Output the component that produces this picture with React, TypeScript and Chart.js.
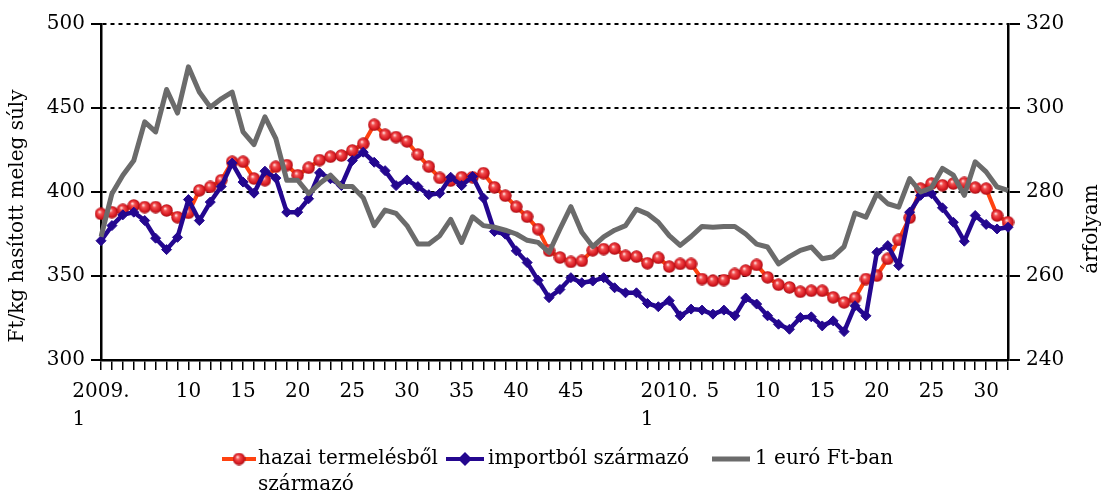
import React, { useEffect, useRef } from 'react';
import { Chart, registerables } from 'chart.js';

Chart.register(...registerables);

// Categories: weekly observations, 2009 and 2010
const categories = [
  '2009.1', '3', '4', '5', '6', '7', '8', '9', '10', '11', '12', '13', '14', '15', '16', '17', '18', '19', '20',
  '21', '22', '23', '24', '25', '26', '27', '28', '29', '30', '31', '32', '33', '34', '35', '36', '37', '38', '39',
  '40', '41', '42', '43', '44', '45', '46', '47', '48', '49', '50', '51', '52', '53',
  '2010.1', '2', '3', '4', '5', '6', '7', '8', '9', '10', '11', '12', '13', '14', '15', '16', '17', '18', '19', '20',
  '21', '22', '23', '24', '25', '26', '27', '28', '29', '30', '31', '32',
];

// Category indices that carry a visible tick label
const xLabelIndices = [0, 8, 13, 18, 23, 28, 33, 38, 43, 52, 56, 61, 66, 71, 76, 81];

// Ft/kg hasított meleg súly – hazai termelésből származó
const hazai = [
  387, 388, 389.4, 392, 391, 391, 389, 385, 387.6, 401, 403, 407, 418, 418, 408, 407, 415, 416, 410, 414.4, 419, 421,
  421.7, 424.7, 428.7, 440, 434.1, 432.7, 430.1, 422.3, 415.1, 408.4, 406.8, 408.8, 408.8, 411.2, 402.8, 397.8, 391.2,
  385.3, 377.9, 365, 361, 358.4, 359, 365.3, 366, 366.3, 362, 361.5,
  357.6, 360.8, 355.6, 357.2, 357.2, 348.2, 347.2, 347.6, 351.2, 353.2, 356.6, 349.2, 344.8, 343.2, 340.6, 341.2, 341.2,
  337.3, 334.3, 336.9, 348.2, 350.2, 360.2, 371.5, 384.7,
  402, 405, 404, 405, 405.4, 402.6, 402, 386, 382,
];

// Ft/kg hasított meleg súly – importból származó
const import_ = [
  371, 380, 386.4, 388, 383, 372.5, 365.7, 373, 395.5, 383, 394, 403.3, 417.2, 405.9, 399.3, 412.4, 408.3, 388, 388, 396,
  411.4, 407.9,
  403.8, 418.7, 423.7, 417.7, 412.7, 403.8, 407.2, 403.2, 398.4, 399.2, 408.8, 403.8, 409.2, 396.4, 376.5, 374.9, 365, 358,
  347.4, 337.1, 342, 349, 346, 347, 349, 343, 340, 340,
  333.7, 331.7, 335.3, 326.3, 330.3, 329.7, 327.3, 329.7, 326.3, 336.9, 333.3, 326.3, 321.3, 318.3, 325.3, 325.7, 320.3,
  323.3, 316.9, 332.3, 326.3, 364.1, 368.1, 356.2, 388,
  398, 399, 390.6, 382, 370.7, 386, 380.7, 378, 379,
];

// 1 euró Ft-ban (árfolyam, right axis)
const euro = [
  269.3, 279.6, 284, 287.5, 296.7, 294.3, 304.4, 298.8, 309.8, 303.8, 300.2, 302.2, 303.8, 294.3, 291.3, 297.9, 292.7,
  282.8, 282.8, 279.6, 282, 284,
  281.3, 281.3, 278.6, 272, 275.7, 274.9, 272, 267.6, 267.6, 269.6, 273.5, 268, 274.1, 272, 271.6, 270.9, 270, 268.5, 268,
  265.6, 271.2, 276.5, 270.4, 267, 269.3, 270.9, 272, 275.9,
  274.8, 272.8, 269.6, 267.3, 269.4, 271.8, 271.6, 271.8, 271.8, 270, 267.6, 266.9, 262.9, 264.6, 266.1, 266.9, 264.1,
  264.6, 267, 275, 274, 279.6, 277.2, 276.4, 283.2,
  280, 281, 285.6, 284, 279.2, 287.2, 284.8, 281.2, 280.4,
];

const seriesNames = ['hazai termelésből', 'importból származó', '1 euró Ft-ban'];
const seriesNameSecondLine = 'származó';
const leftTitle = 'Ft/kg hasított meleg súly';
const rightTitle = 'árfolyam';

const FONT = '"DejaVu Serif", serif';
const RED_LINE = '#ff4210';
const BLUE = '#24078f';
const GRAY = '#6b6b6b';

function makeBall(): HTMLCanvasElement {
  const c = document.createElement('canvas');
  c.width = 13;
  c.height = 13;
  const g = c.getContext('2d')!;
  const grad = g.createRadialGradient(5, 4.5, 0.5, 6.5, 6.5, 6.6);
  grad.addColorStop(0, '#ffd6d6');
  grad.addColorStop(0.25, '#f25050');
  grad.addColorStop(0.7, '#d81a22');
  grad.addColorStop(1, '#9a0c12');
  g.fillStyle = grad;
  g.beginPath();
  g.arc(6.5, 6.5, 6.2, 0, Math.PI * 2);
  g.fill();
  return c;
}

export default function App() {
  const ref = useRef<HTMLCanvasElement>(null);

  useEffect(() => {
    const canvas = ref.current;
    if (!canvas) return;
    const ball = makeBall();
    const labelSet = new Set(xLabelIndices);

    const overlay = {
      id: 'overlay',
      afterDraw(chart: any) {
        const ctx = chart.ctx as CanvasRenderingContext2D;
        ctx.save();
        ctx.fillStyle = '#000';
        ctx.font = `20px ${FONT}`;
        ctx.textAlign = 'center';
        ctx.textBaseline = 'middle';
        ctx.save();
        ctx.translate(18, 216);
        ctx.rotate(-Math.PI / 2);
        ctx.fillText(leftTitle, 0, 0);
        ctx.restore();
        ctx.save();
        ctx.translate(1092, 229);
        ctx.rotate(-Math.PI / 2);
        ctx.fillText(rightTitle, 0, 0);
        ctx.restore();

        // legend
        const ly = 459;
        ctx.lineCap = 'butt';
        // red
        ctx.strokeStyle = RED_LINE;
        ctx.lineWidth = 4;
        ctx.beginPath();
        ctx.moveTo(222, ly);
        ctx.lineTo(256, ly);
        ctx.stroke();
        ctx.drawImage(ball, 239 - 6.5, ly - 6.5);
        // blue
        ctx.strokeStyle = BLUE;
        ctx.beginPath();
        ctx.moveTo(446, ly);
        ctx.lineTo(484, ly);
        ctx.stroke();
        ctx.fillStyle = BLUE;
        ctx.beginPath();
        ctx.moveTo(465, ly - 7);
        ctx.lineTo(472, ly);
        ctx.lineTo(465, ly + 7);
        ctx.lineTo(458, ly);
        ctx.closePath();
        ctx.fill();
        // gray
        ctx.strokeStyle = GRAY;
        ctx.lineWidth = 5;
        ctx.beginPath();
        ctx.moveTo(712, ly);
        ctx.lineTo(750, ly);
        ctx.stroke();

        ctx.fillStyle = '#000';
        ctx.textAlign = 'left';
        ctx.fillText(seriesNames[0], 258, ly);
        ctx.fillText(seriesNameSecondLine, 258, ly + 26);
        ctx.fillText(seriesNames[1], 488, ly);
        ctx.fillText(seriesNames[2], 755, ly);
        ctx.restore();
      },
    };

    const tickFont = { family: FONT, size: 20, lineHeight: 1.4 };

    const chart = new Chart(canvas, {
      type: 'line',
      data: {
        labels: categories,
        datasets: [
          {
            label: seriesNames[0] + ' ' + seriesNameSecondLine,
            data: hazai,
            yAxisID: 'y',
            borderColor: RED_LINE,
            borderWidth: 4,
            pointStyle: ball as any,
            pointRadius: 6,
            order: 2,
          },
          {
            label: seriesNames[1],
            data: import_,
            yAxisID: 'y',
            borderColor: BLUE,
            backgroundColor: BLUE,
            borderWidth: 4.5,
            pointStyle: 'rectRot',
            pointRadius: 5,
            pointBorderWidth: 1,
            pointBackgroundColor: BLUE,
            pointBorderColor: BLUE,
            order: 1,
          },
          {
            label: seriesNames[2],
            data: euro,
            yAxisID: 'y1',
            borderColor: GRAY,
            borderWidth: 5,
            pointRadius: 0,
            order: 0,
          },
        ],
      },
      options: {
        responsive: false,
        animation: false,
        devicePixelRatio: 1,
        layout: { padding: { top: 24, left: 0, right: 0, bottom: 0 } },
        plugins: { legend: { display: false }, tooltip: { enabled: false } },
        elements: { line: { tension: 0, borderJoinStyle: 'round' } },
        scales: {
          x: {
            type: 'category',
            offset: false,
            grid: {
              display: true,
              drawOnChartArea: false,
              drawTicks: true,
              tickLength: 10,
              color: '#000',
              lineWidth: 1.5,
              offset: false,
            },
            border: { display: true, color: '#000', width: 2.5 },
            ticks: {
              autoSkip: false,
              maxRotation: 0,
              minRotation: 0,
              padding: 8,
              color: '#000',
              font: tickFont,
              callback: (_v: any, i: number) => {
                if (!labelSet.has(i)) return '';
                const s = categories[i];
                if (s.includes('.')) {
                  const [yr, wk] = s.split('.');
                  return [yr + '.', wk + '\u00a0'.repeat(7)];
                }
                return s;
              },
            },
            afterFit: (s: any) => {
              s.height = 137;
            },
          },
          y: {
            position: 'left',
            min: 300,
            max: 500,
            ticks: { stepSize: 50, padding: 6, color: '#000', font: tickFont },
            grid: { color: '#000', lineWidth: 2, tickLength: 10, drawTicks: true },
            border: { display: true, color: '#000', width: 2.5, dash: [4, 4] },
            afterFit: (s: any) => {
              s.width = 101;
            },
          },
          y1: {
            position: 'right',
            min: 240,
            max: 320,
            ticks: { stepSize: 20, padding: 6, color: '#000', font: tickFont },
            grid: { drawOnChartArea: false, color: '#000', lineWidth: 2, tickLength: 12, drawTicks: true },
            border: { display: true, color: '#000', width: 2.5 },
            afterFit: (s: any) => {
              s.width = 100;
            },
          },
        },
      },
      plugins: [overlay],
    });

    return () => chart.destroy();
  }, []);

  return (
    <div style={{ position: 'absolute', left: 0, top: 0, width: 1108, height: 497, background: '#fff' }}>
      <canvas ref={ref} width={1108} height={497} style={{ display: 'block' }} />
    </div>
  );
}
